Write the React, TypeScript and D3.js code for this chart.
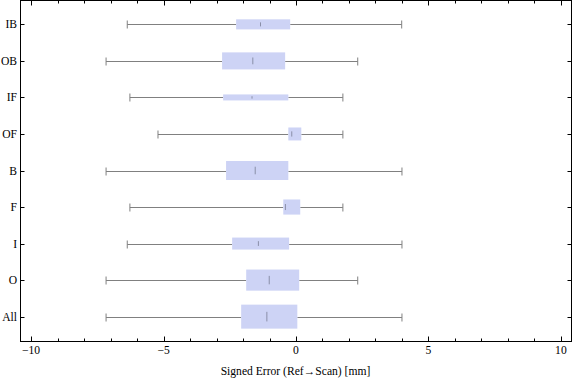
import React from "react";
import * as d3 from "d3";

const categories = ["IB", "OB", "IF", "OF", "B", "F", "I", "O", "All"];
const whiskerLow = [-6.37, -7.17, -6.27, -5.21, -7.17, -6.27, -6.37, -7.17, -7.17];
const q1 = [-2.26, -2.79, -2.75, -0.29, -2.64, -0.48, -2.41, -1.88, -2.07];
const median = [-1.34, -1.63, -1.66, -0.16, -1.54, -0.4, -1.42, -1.01, -1.1];
const q3 = [-0.22, -0.41, -0.29, 0.2, -0.29, 0.16, -0.26, 0.12, 0.05];
const whiskerHigh = [3.99, 2.33, 1.77, 1.77, 4.0, 1.77, 4.0, 2.33, 4.0];
// relative box thickness (sample weight) per category
const boxWeight = [0.42, 0.71, 0.25, 0.54, 0.79, 0.63, 0.5, 0.88, 1.0];
const majorTicks = [-10, -5, 0, 5, 10];
const xTitle = "Signed Error (Ref\u2192Scan) [mm]";

const W = 576;
const H = 381;
const left = 20.5;
const right = 571.5;
const top = 0.5;
const bottom = 341.5;
const maxBox = 24;
const capH = 8;
const boxFill = "#cdd3f5";
const whiskerColor = "#808080";
const font = "'Liberation Serif', 'Times New Roman', serif";
const fs = 11.6;

export default function App() {
  const x = d3.scaleLinear().domain([-10.4, 10.4]).range([left, right]);
  const y = d3.scaleLinear().domain([-0.667, categories.length - 1 + 0.667]).range([0, 341]);
  const minorTicks = d3.range(-10, 11, 1).filter((v) => !majorTicks.includes(v));
  const fmt = (v: number) => (v < 0 ? "\u2212" + Math.abs(v) : String(v));

  return (
    <div style={{ position: "absolute", left: 0, top: 0 }}>
      <svg width={W} height={H} style={{ display: "block", background: "#fff" }}>
        {categories.map((c, i) => {
          const cy = y(i);
          const bh = boxWeight[i] * maxBox;
          const yl = Math.round(cy) + 0.5;
          return (
            <g key={c}>
              <line x1={x(whiskerLow[i])} x2={x(q1[i])} y1={yl} y2={yl} stroke={whiskerColor} strokeWidth={1} />
              <line x1={x(q3[i])} x2={x(whiskerHigh[i])} y1={yl} y2={yl} stroke={whiskerColor} strokeWidth={1} />
              <line x1={x(whiskerLow[i])} x2={x(whiskerLow[i])} y1={yl - capH / 2} y2={yl + capH / 2} stroke={whiskerColor} strokeWidth={1} />
              <line x1={x(whiskerHigh[i])} x2={x(whiskerHigh[i])} y1={yl - capH / 2} y2={yl + capH / 2} stroke={whiskerColor} strokeWidth={1} />
              <rect x={x(q1[i])} y={cy - bh / 2} width={x(q3[i]) - x(q1[i])} height={bh} fill={boxFill} />
              <line
                x1={x(median[i])}
                x2={x(median[i])}
                y1={cy - bh * 0.2}
                y2={cy + bh * 0.2}
                stroke="#8a8fa8"
                strokeWidth={1}
              />
            </g>
          );
        })}

        {/* frame */}
        <rect x={left} y={top} width={right - left} height={bottom - top} fill="none" stroke="#000" strokeWidth={1} />

        {/* x ticks */}
        {majorTicks.map((v) => (
          <g key={"M" + v}>
            <line x1={Math.round(x(v)) + 0.5} x2={Math.round(x(v)) + 0.5} y1={bottom} y2={bottom - 5} stroke="#000" />
            <line x1={Math.round(x(v)) + 0.5} x2={Math.round(x(v)) + 0.5} y1={top} y2={top + 5} stroke="#000" />
            <text x={x(v)} y={354} textAnchor="middle" fontFamily={font} fontSize={fs} fill="#000">
              {fmt(v)}
            </text>
          </g>
        ))}
        {minorTicks.map((v) => (
          <g key={"m" + v}>
            <line x1={Math.round(x(v)) + 0.5} x2={Math.round(x(v)) + 0.5} y1={bottom} y2={bottom - 3} stroke="#000" />
            <line x1={Math.round(x(v)) + 0.5} x2={Math.round(x(v)) + 0.5} y1={top} y2={top + 3} stroke="#000" />
          </g>
        ))}

        {/* y ticks & labels */}
        {categories.map((c, i) => {
          const yl = Math.round(y(i)) + 0.5;
          return (
            <g key={"y" + c}>
              <line x1={left} x2={left + 4} y1={yl} y2={yl} stroke="#000" />
              <line x1={right} x2={right - 4} y1={yl} y2={yl} stroke="#000" />
              <text x={17} y={y(i)} dy="0.35em" textAnchor="end" fontFamily={font} fontSize={fs} fill="#000">
                {c}
              </text>
            </g>
          );
        })}

        <text x={x(0) - 0.5} y={375} textAnchor="middle" fontFamily={font} fontSize={fs} fill="#000">
          {xTitle}
        </text>
      </svg>
    </div>
  );
}
